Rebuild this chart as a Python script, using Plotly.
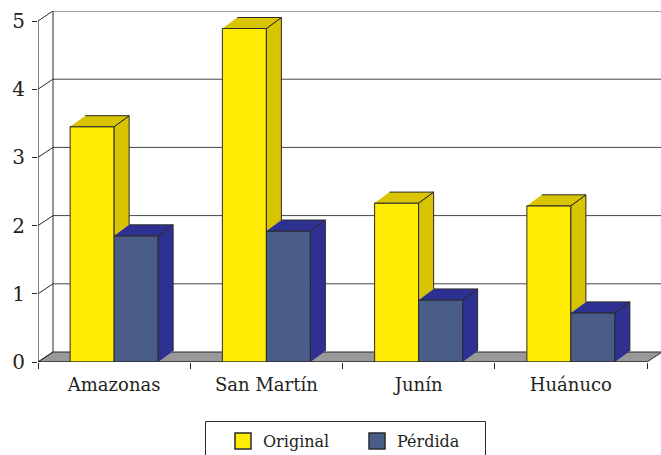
import plotly.graph_objects as go

# Data
regions = ["Amazonas", "San Martín", "Junín", "Huánuco"]
original = [3.45, 4.89, 2.33, 2.29]
perdida = [1.85, 1.92, 0.91, 0.72]
series_names = ["Original", "Pérdida"]
y_ticks = [0, 1, 2, 3, 4, 5]

# Styling
FONT = "DejaVu Serif"
TXT = "#231f20"
EDGE = "#2a2a2a"
YEL_FRONT, YEL_DARK = "#ffec00", "#d9c400"
BLU_FRONT, BLU_DARK = "#4a5d88", "#2e3192"
FLOOR = "#999999"

W, H = 661, 455
M = dict(l=38, r=0, t=11, b=93)
PX_X = 152.25          # pixels per category
PX_Y = 68.2            # pixels per unit
plot_w = W - M["l"] - M["r"]
plot_h = H - M["t"] - M["b"]
x_range = [-0.5, -0.5 + plot_w / PX_X]
y_range = [0, plot_h / PX_Y]


def paper_x(px):
    return (px - M["l"]) / plot_w


def paper_y(py):
    return (H - M["b"] - py) / plot_h


BARGAP = 0.422
BW = (1 - BARGAP) / 2          # width of each bar in category units
WX, WY = 15 / PX_X, 10 / PX_Y  # depth offset of the back wall
BX, BY = 15 / PX_X, 11 / PX_Y  # depth offset of the bars

xs = list(range(len(regions)))
x_lo, x_hi = -0.5, len(regions) - 0.5
y_top = max(y_ticks)

fig = go.Figure()

# front faces of the columns
fig.add_trace(go.Bar(x=xs, y=original, name=series_names[0], showlegend=False,
                     marker=dict(color=YEL_FRONT, line=dict(color=EDGE, width=1)),
                     hoverinfo="skip"))
fig.add_trace(go.Bar(x=xs, y=perdida, name=series_names[1], showlegend=False,
                     marker=dict(color=BLU_FRONT, line=dict(color=EDGE, width=1)),
                     hoverinfo="skip"))


def polys(points_list):
    px, py = [], []
    for pts in points_list:
        for (a, b) in pts:
            px.append(a)
            py.append(b)
        px.append(None)
        py.append(None)
    return px, py


def add_faces(points_list, color):
    px, py = polys(points_list)
    fig.add_trace(go.Scatter(x=px, y=py, mode="lines", fill="toself",
                             fillcolor=color, line=dict(color=EDGE, width=1),
                             hoverinfo="skip", showlegend=False))


# side faces and tops; the yellow side is only drawn above the blue column
o_side, o_top, b_top, b_side = [], [], [], []
for i, (vo, vb) in enumerate(zip(original, perdida)):
    xl, xm, xr = i - BW, i, i + BW
    o_side.append([(xm, vb), (xm, vo), (xm + BX, vo + BY), (xm + BX, vb + BY)])
    o_top.append([(xl, vo), (xm, vo), (xm + BX, vo + BY), (xl + BX, vo + BY)])
    b_top.append([(xm, vb), (xr, vb), (xr + BX, vb + BY), (xm + BX, vb + BY)])
    b_side.append([(xr, 0), (xr, vb), (xr + BX, vb + BY), (xr + BX, BY)])

add_faces(o_side, YEL_DARK)
add_faces(o_top, YEL_DARK)
add_faces(b_top, BLU_DARK)
add_faces(b_side, BLU_DARK)

# legend entries
for nm, col in zip(series_names, [YEL_FRONT, BLU_FRONT]):
    fig.add_trace(go.Scatter(x=[None], y=[None], mode="markers", name=nm,
                             marker=dict(symbol="square", size=16, color=col,
                                         line=dict(color=EDGE, width=1.5))))

# invisible trace carrying the boundary tick axis
fig.add_trace(go.Scatter(x=[x_lo], y=[0], xaxis="x2", mode="markers",
                         marker=dict(opacity=0), hoverinfo="skip", showlegend=False))

# wall, floor and grid
shapes = []
shapes.append(dict(type="path", layer="below", xref="x", yref="y",
                   path=f"M{x_lo},0 L{x_hi},0 L{x_hi + WX},{WY} L{x_lo + WX},{WY} Z",
                   fillcolor=FLOOR, line=dict(color=EDGE, width=1)))
for v in y_ticks:
    if v > 0:
        shapes.append(dict(type="line", layer="below", xref="x", yref="y",
                           x0=x_lo + WX, x1=x_range[1] + 1, y0=v + WY, y1=v + WY,
                           line=dict(color="#444444", width=1)))
    shapes.append(dict(type="line", layer="below", xref="x", yref="y",
                       x0=x_lo, x1=x_lo + WX, y0=v, y1=v + WY,
                       line=dict(color=EDGE, width=1)))
shapes.append(dict(type="line", layer="below", xref="x", yref="y",
                   x0=x_lo + WX, x1=x_lo + WX, y0=WY, y1=y_top + WY,
                   line=dict(color=EDGE, width=1)))
shapes.append(dict(type="line", layer="above", xref="x", yref="y",
                   x0=x_lo, x1=x_lo, y0=0, y1=y_top,
                   line=dict(color=EDGE, width=1.2)))
shapes.append(dict(type="line", layer="above", xref="x", yref="y",
                   x0=x_lo, x1=x_hi, y0=0, y1=0,
                   line=dict(color=EDGE, width=1.2)))
# legend frame
shapes.append(dict(type="rect", layer="above", xref="paper", yref="paper",
                   x0=paper_x(205.5), x1=paper_x(485.5),
                   y0=paper_y(470), y1=paper_y(421.5),
                   line=dict(color=EDGE, width=1), fillcolor="rgba(0,0,0,0)"))

fig.update_layout(
    width=W, height=H, margin=dict(M, autoexpand=False),
    paper_bgcolor="white", plot_bgcolor="white",
    barmode="group", bargap=BARGAP, bargroupgap=0,
    font=dict(family=FONT, color=TXT, size=18),
    shapes=shapes,
    xaxis=dict(range=x_range, tickvals=xs, ticktext=regions, ticks="outside",
               ticklen=6, tickcolor="rgba(0,0,0,0)", showgrid=False,
               zeroline=False, showline=False, fixedrange=True, automargin=False,
               tickfont=dict(family=FONT, size=18, color=TXT)),
    xaxis2=dict(range=x_range, overlaying="x", anchor="y", side="bottom",
                tickvals=[x_lo + k for k in range(len(regions) + 1)],
                ticks="outside", ticklen=6, tickcolor=EDGE, showticklabels=False,
                showgrid=False, zeroline=False, showline=False, automargin=False),
    yaxis=dict(range=y_range, tickvals=y_ticks, ticks="outside", ticklen=5,
               tickcolor=EDGE, showgrid=False, zeroline=False, showline=False,
               ticklabelstandoff=3, automargin=False,
               tickfont=dict(family=FONT, size=20, color=TXT), fixedrange=True),
    legend=dict(orientation="h", xref="container", yref="container",
                x=223 / W, y=1 - 424 / H,
                xanchor="left", yanchor="top", borderwidth=0,
                font=dict(family=FONT, size=16, color=TXT), itemsizing="trace",
                entrywidth=89, bgcolor="rgba(0,0,0,0)"),
    showlegend=True,
)

fig.write_html("out.html")
